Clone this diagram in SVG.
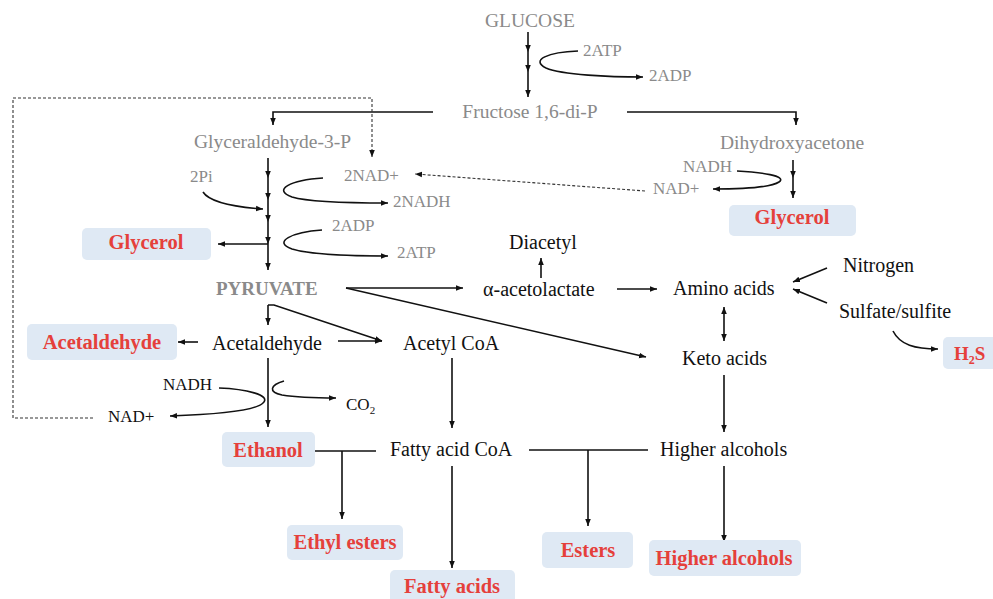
<svg xmlns="http://www.w3.org/2000/svg" width="993" height="599" viewBox="0 0 993 599">
<style>
text{font-family:"Liberation Serif","Times New Roman",serif}
.g{fill:#8a8a8a;font-size:19.5px}
.gs{fill:#8a8a8a;font-size:17px}
.k{fill:#111;font-size:20px}
.ks{fill:#111;font-size:17px}
.r{fill:#e5403b;font-size:20.5px;font-weight:bold;text-anchor:middle}
.box{fill:#dfe9f4}
.ln{fill:none;stroke:#111;stroke-width:1.6}
.a{marker-end:url(#ah)}
.m{marker-mid:url(#ah)}
.d{fill:none;stroke:#333;stroke-width:1.1;stroke-dasharray:3 2}
</style>
<defs>
<marker id="ah" viewBox="0 0 10 10" refX="10" refY="5" markerWidth="7" markerHeight="7" markerUnits="userSpaceOnUse" orient="auto-start-reverse"><path d="M0,1 L10,5 L0,9 z" fill="#111"/></marker>
</defs>
<rect width="993" height="599" fill="#fff"/>
<g id="connectors">
<polyline class="ln m a" points="528,32 528,52 528,72 528,97"/>
<path class="ln a" d="M578,51 C548,52 530,60 546,68 C562,75 610,77 643,77"/>
<polyline class="ln a" points="433,112 273,112 273,125"/>
<polyline class="ln a" points="627,112 796,112 796,125"/>
<polyline class="d a" points="93,418 13,418 13,98 372,98 372,157"/>
<polyline class="ln m a" points="268,158 268,178 268,200 268,222 268,244 268,270"/>
<path class="ln a" d="M203,192 C210,203 235,207 263,209"/>
<path class="ln a" d="M323,178 C290,180 272,190 292,197 C312,203 360,203 388,203"/>
<path class="ln a" d="M322,230 C292,232 272,242 292,249 C312,255 360,256 388,256"/>
<line class="ln a" x1="268" y1="244" x2="218" y2="244"/>
<polyline class="ln m a" points="793,160 793,178 793,198"/>
<path class="ln a" d="M737,171 C760,172 788,176 779,182 C770,188 740,189 713,189"/>
<line class="d a" x1="645" y1="191" x2="415" y2="174"/>
<line class="ln a" x1="346" y1="288" x2="463" y2="288"/>
<line class="ln a" x1="346" y1="288" x2="646" y2="357"/>
<line class="ln a" x1="541" y1="278" x2="541" y2="258"/>
<line class="ln a" x1="617" y1="289" x2="657" y2="289"/>
<line class="ln a" x1="827" y1="268" x2="793" y2="282"/>
<line class="ln a" x1="827" y1="303" x2="793" y2="289"/>
<path class="ln" d="M724,307 L724,341" marker-start="url(#ah)" marker-end="url(#ah)"/>
<path class="ln a" d="M893,331 C900,345 915,349 938,349"/>
<line class="ln a" x1="268" y1="305" x2="268" y2="325"/>
<polyline class="ln a" points="268,305 274,305 382,341"/>
<line class="ln a" x1="338" y1="341" x2="382" y2="341"/>
<line class="ln a" x1="198" y1="342" x2="178" y2="342"/>
<line class="ln a" x1="268" y1="358" x2="268" y2="427"/>
<path class="ln a" d="M219,388 C245,389 272,395 263,403 C254,412 200,415 170,416"/>
<path class="ln a" d="M284,381 C270,385 268,392 282,395 C300,398 320,398 336,398"/>
<line class="ln a" x1="452" y1="358" x2="452" y2="428"/>
<line class="ln" x1="315" y1="451" x2="376" y2="451"/>
<line class="ln a" x1="342" y1="451" x2="342" y2="519"/>
<line class="ln a" x1="452" y1="466" x2="452" y2="568"/>
<line class="ln" x1="529" y1="450" x2="648" y2="450"/>
<line class="ln a" x1="588" y1="450" x2="588" y2="526"/>
<line class="ln a" x1="724" y1="375" x2="724" y2="432"/>
<line class="ln a" x1="724" y1="466" x2="724" y2="542"/>
</g>
<g id="glucose"><text class="g" x="530" y="27" text-anchor="middle">GLUCOSE</text></g>
<g id="atp1"><text class="gs" x="583" y="56">2ATP</text></g>
<g id="adp1"><text class="gs" x="649" y="81">2ADP</text></g>
<g id="fructose"><text class="g" x="530" y="118" text-anchor="middle">Fructose 1,6-di-P</text></g>
<g id="g3p"><text class="g" x="194" y="148">Glyceraldehyde-3-P</text></g>
<g id="pi"><text class="gs" x="190" y="182">2Pi</text></g>
<g id="nad2"><text class="gs" x="344" y="181">2NAD+</text></g>
<g id="nadh2"><text class="gs" x="393" y="207">2NADH</text></g>
<g id="adp2"><text class="gs" x="332" y="231">2ADP</text></g>
<g id="atp2"><text class="gs" x="397" y="258">2ATP</text></g>
<g id="dhap"><text class="g" x="720" y="149">Dihydroxyacetone</text></g>
<g id="nadh-r"><text class="gs" x="683" y="172">NADH</text></g>
<g id="nad-r"><text class="gs" x="653" y="194">NAD+</text></g>
<g id="glycerol-r"><rect class="box" x="729" y="205" width="127" height="31" rx="5"/><text class="r" x="792" y="224">Glycerol</text></g>
<g id="glycerol-l"><rect class="box" x="82" y="228" width="129" height="32" rx="5"/><text class="r" x="146" y="249">Glycerol</text></g>
<g id="pyruvate"><text x="216" y="295" fill="#8a8a8a" font-size="19px" font-weight="bold">PYRUVATE</text></g>
<g id="diacetyl"><text class="k" x="509" y="249">Diacetyl</text></g>
<g id="acetolactate"><text class="k" x="483" y="296">α-acetolactate</text></g>
<g id="amino"><text class="k" x="673" y="295">Amino acids</text></g>
<g id="nitrogen"><text class="k" x="843" y="272">Nitrogen</text></g>
<g id="sulfate"><text class="k" x="839" y="318">Sulfate/sulfite</text></g>
<g id="keto"><text class="k" x="682" y="365">Keto acids</text></g>
<g id="h2s"><rect class="box" x="943" y="337" width="60" height="32" rx="5"/><text x="954" y="360" fill="#e5403b" font-size="19px" font-weight="bold">H<tspan font-size="12px" dy="4">2</tspan><tspan dy="-4">S</tspan></text></g>
<g id="acetaldehyde-r"><rect class="box" x="27" y="324" width="150" height="36" rx="5"/><text class="r" x="102" y="349">Acetaldehyde</text></g>
<g id="acetaldehyde"><text class="k" x="212" y="350">Acetaldehyde</text></g>
<g id="acetylcoa"><text class="k" x="403" y="350">Acetyl CoA</text></g>
<g id="nadh-l"><text class="ks" x="163" y="390">NADH</text></g>
<g id="nad-l"><text class="ks" x="108" y="422">NAD+</text></g>
<g id="co2"><text class="ks" x="346" y="410">CO<tspan font-size="11px" dy="4">2</tspan></text></g>
<g id="ethanol"><rect class="box" x="222" y="432" width="93" height="35" rx="5"/><text class="r" x="268" y="457">Ethanol</text></g>
<g id="fattycoa"><text class="k" x="390" y="456">Fatty acid CoA</text></g>
<g id="higher"><text class="k" x="660" y="456">Higher alcohols</text></g>
<g id="ethylesters"><rect class="box" x="287" y="525" width="116" height="35" rx="5"/><text class="r" x="345" y="549">Ethyl esters</text></g>
<g id="fattyacids"><rect class="box" x="390" y="570" width="125" height="35" rx="5"/><text class="r" x="452" y="593">Fatty acids</text></g>
<g id="esters"><rect class="box" x="542" y="532" width="91" height="36" rx="5"/><text class="r" x="588" y="557">Esters</text></g>
<g id="higher-box"><rect class="box" x="649" y="540" width="152" height="36" rx="5"/><text class="r" x="724" y="565">Higher alcohols</text></g>
</svg>
